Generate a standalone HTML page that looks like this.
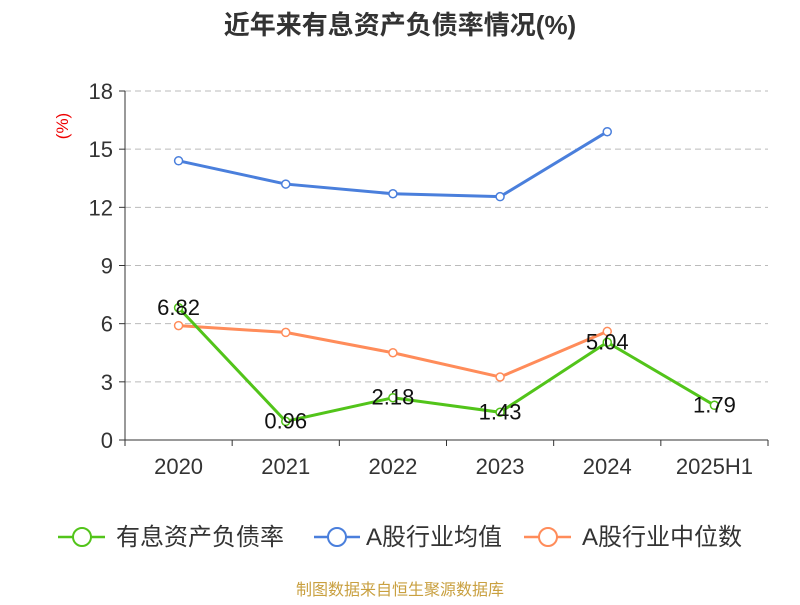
<!DOCTYPE html>
<html><head><meta charset="utf-8"><style>
body{margin:0;background:#fff;}
svg text{font-family:"Liberation Sans","Noto Sans CJK SC",sans-serif;}
</style></head><body>
<svg id="chart" width="800" height="600" xmlns="http://www.w3.org/2000/svg">
<text x="400" y="34" text-anchor="middle" font-size="26" font-weight="bold" fill="#333">近年来有息资产负债率情况(%)</text>
<text transform="translate(68,126) rotate(-90)" text-anchor="middle" font-size="17" fill="#e00">(%)</text>
<g id="grid"></g><g id="axes"></g><g id="series"></g>
<g>
 <g><line x1="58" y1="537" x2="105" y2="537" stroke="#52c41a" stroke-width="2.5"/><circle cx="82" cy="537" r="9" fill="#fff" stroke="#52c41a" stroke-width="2"/><text x="116" y="545" font-size="24" fill="#333">有息资产负债率</text></g>
 <g><line x1="314" y1="537" x2="360" y2="537" stroke="#4a7fdc" stroke-width="2.5"/><circle cx="337" cy="537" r="9" fill="#fff" stroke="#4a7fdc" stroke-width="2"/><text x="366" y="545" font-size="24" fill="#333">A股行业均值</text></g>
 <g><line x1="524" y1="537" x2="571" y2="537" stroke="#ff8c5a" stroke-width="2.5"/><circle cx="548" cy="537" r="9" fill="#fff" stroke="#ff8c5a" stroke-width="2"/><text x="582" y="545" font-size="24" fill="#333">A股行业中位数</text></g>
</g>
<text x="400" y="595" text-anchor="middle" font-size="16" fill="#c9a040">制图数据来自恒生聚源数据库</text>
</svg>
<script>
const categories=["2020","2021","2022","2023","2024","2025H1"];
const debtRatio=[6.82,0.96,2.18,1.43,5.04,1.79];
const industryMean=[14.4,13.2,12.7,12.55,15.9];
const industryMedian=[5.9,5.55,4.5,3.25,5.6];
const yTicks=[0,3,6,9,12,15,18];
const NS="http://www.w3.org/2000/svg";
const L=125,R=768,T=91,B=440,yMax=18;
const bw=(R-L)/categories.length;
const xs=i=>L+bw*(i+0.5);
const ys=v=>B-v/yMax*(B-T);
function mk(tag,attrs,parent){const e=document.createElementNS(NS,tag);for(const k in attrs)e.setAttribute(k,attrs[k]);parent.appendChild(e);return e;}
const grid=document.getElementById('grid'),axes=document.getElementById('axes'),ser=document.getElementById('series');
yTicks.forEach(t=>{
 const y=ys(t);
 if(t>0){const g=mk('line',{x1:L,x2:R,y1:y,y2:y,stroke:'#bbb','stroke-dasharray':'6,4'},grid);
 
 }
 mk('line',{x1:L-6,x2:L,y1:y,y2:y,stroke:'#333'},axes);
 const tx=mk('text',{x:L-12,y:y+8,'text-anchor':'end','font-size':22,fill:'#333'},axes);tx.textContent=t;
 
 
});
mk('line',{x1:L,x2:L,y1:T,y2:B,stroke:'#333'},axes);
mk('line',{x1:L,x2:R,y1:B,y2:B,stroke:'#333'},axes);
for(let i=0;i<=categories.length;i++){mk('line',{x1:L+bw*i,x2:L+bw*i,y1:B,y2:B+6,stroke:'#333'},axes);}
categories.forEach((c,i)=>{const tx=mk('text',{x:xs(i),y:B+34,'text-anchor':'middle','font-size':22,fill:'#333'},axes);tx.textContent=c;
 
 });
function series(vals,color,name,labels){
 const g=mk('g',{},ser);
 
 
 mk('polyline',{points:vals.map((v,i)=>xs(i)+','+ys(v)).join(' '),fill:'none',stroke:color,'stroke-width':3},g);
 vals.forEach((v,i)=>{const c=mk('circle',{cx:xs(i),cy:ys(v),r:4,fill:'#fff',stroke:color,'stroke-width':1.5},g);
  
  
  if(labels){const t=mk('text',{x:xs(i),y:ys(v)+7,'text-anchor':'middle','font-size':22,fill:'#111'},g);t.textContent=v.toFixed(2);
   
   }
 });
}
series(industryMean,'#4a7fdc','industry-mean-line',false);
series(industryMedian,'#ff8c5a','industry-median-line',false);
series(debtRatio,'#52c41a','debt-ratio-line',true);
</script>
</body></html>
